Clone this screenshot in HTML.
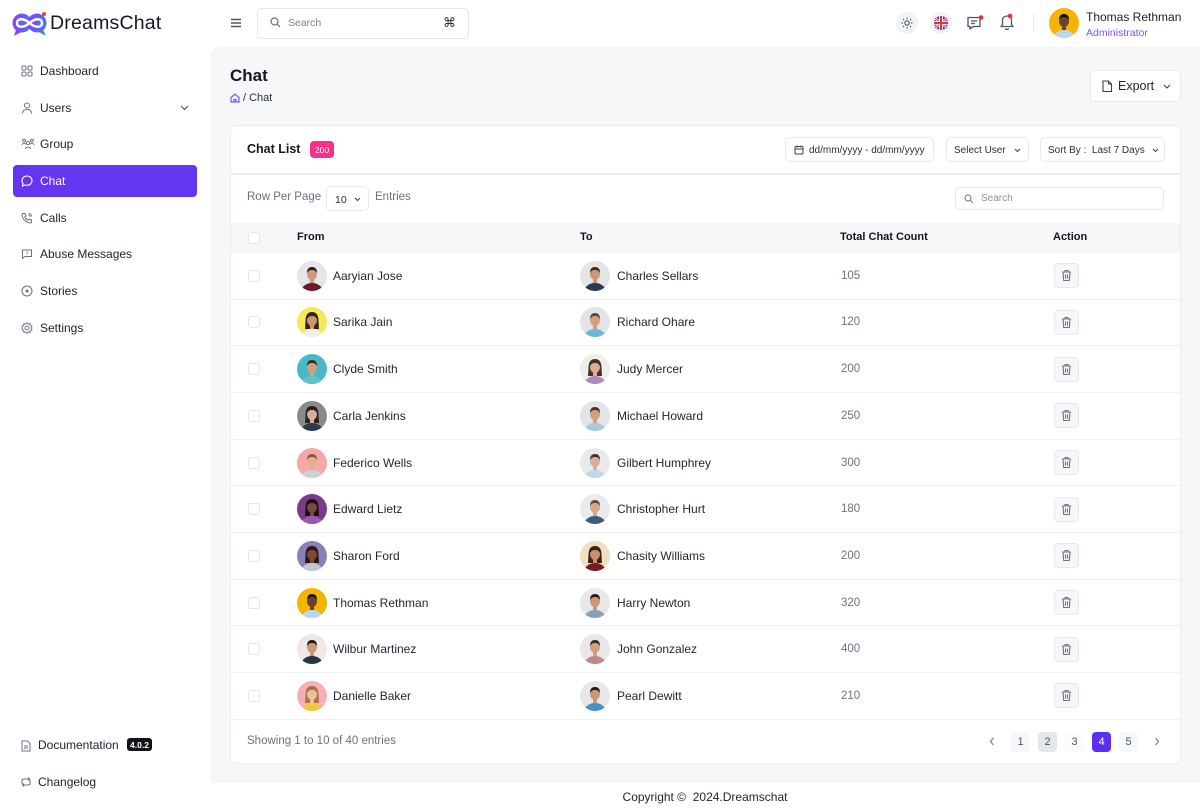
<!DOCTYPE html>
<html><head><meta charset="utf-8">
<style>
*{margin:0;padding:0;box-sizing:border-box}
body{width:1200px;height:812px;overflow:hidden;background:#fff;font-family:"Liberation Sans",Arial,sans-serif;color:#1f2430;position:relative}
.abs{position:absolute}
.nav{position:absolute;left:13px;width:184px;height:32px;display:flex;align-items:center;font-size:12px;color:#202532;border-radius:4px}
.nav svg{position:absolute;left:8px;top:50%;transform:translateY(-50%)}
.nav span{position:absolute;left:27px}
.main{position:absolute;left:210px;top:47px;width:990px;height:736px;background:#f6f7f9;border-top-left-radius:10px}
.card{position:absolute;left:230px;top:125px;width:951px;height:639px;background:#fff;border:1px solid #eaecef;border-radius:6px}
.btn{position:absolute;background:#fff;border:1px solid #e6e8ec;border-radius:5px;font-size:10px;color:#2a2f3a;display:flex;align-items:center}
.row{position:absolute;left:0;width:949px;height:46.67px;border-bottom:1.5px solid #eef0f3}
.cb{position:absolute;left:17px;top:50%;margin-top:-6px;width:12px;height:12px;border:1px solid #e3e5e9;border-radius:3px;background:#fff}
.av{position:absolute;top:50%;margin-top:-15px;width:30px;height:30px;border-radius:50%;overflow:hidden}
.nm{position:absolute;top:50%;transform:translateY(-50%);font-size:12px;color:#1f2430;white-space:nowrap}
.ct{position:absolute;left:610px;top:50%;transform:translateY(-50%);font-size:11.5px;color:#6b7280}
.tr{position:absolute;left:823px;top:50%;margin-top:-12.5px;width:25px;height:25px;background:#f6f7f9;border:1px solid #e6e8ec;border-radius:4px;display:flex;align-items:center;justify-content:center}
.pg{position:absolute;top:606px;width:19px;height:20px;border-radius:4px;font-size:11px;color:#4b5563;display:flex;align-items:center;justify-content:center}
</style></head><body>

<!-- Logo -->
<svg class="abs" style="left:12px;top:11px" width="36" height="26" viewBox="0 0 36 26">
<defs><linearGradient id="lg" x1="0" x2="1"><stop offset="0" stop-color="#8b3dfa"/><stop offset="1" stop-color="#3f7cf5"/></linearGradient></defs>
<circle cx="10" cy="12" r="9.5" fill="url(#lg)"/><circle cx="25" cy="12" r="9.5" fill="url(#lg)"/>
<path d="M4 19 L2 25 L9 21Z" fill="#8b3dfa"/><path d="M31 19 L34 25 L27 21Z" fill="#3f7cf5"/>
<path d="M5 12 C5 7 12 7 17.5 12 C23 17 30 17 30 12 C30 7 23 7 17.5 12 C12 17 5 17 5 12Z" fill="none" stroke="#fff" stroke-width="2.4"/>
<circle cx="32" cy="3" r="2" fill="#f33"/>
</svg>
<div class="abs" style="left:50px;top:12px;font-size:19.5px;color:#141726;letter-spacing:0.2px">DreamsChat</div>

<!-- Header -->
<svg class="abs" style="left:230px;top:17px" width="12" height="12" viewBox="0 0 12 12"><path d="M1 2.5H11M1 6H11M1 9.5H11" stroke="#4b5563" stroke-width="1.4"/></svg>
<div class="abs" style="left:257px;top:8px;width:212px;height:31px;border:1px solid #e4e6ea;border-radius:5px"></div>
<svg class="abs" style="left:270px;top:17px" width="11" height="11" viewBox="0 0 11 11"><circle cx="4.5" cy="4.5" r="3.5" fill="none" stroke="#6b7280" stroke-width="1.2"/><path d="M7.2 7.2L10 10" stroke="#6b7280" stroke-width="1.2"/></svg>
<div class="abs" style="left:288px;top:17px;font-size:10.5px;color:#7b8190">Search</div>
<div class="abs" style="left:443px;top:15px;font-size:13px;color:#2a2f3a">⌘</div>

<div class="abs" style="left:896px;top:12px;width:22px;height:22px;border-radius:50%;background:#f2f3f5"></div>
<svg class="abs" style="left:901px;top:17px" width="12" height="12" viewBox="0 0 12 12"><circle cx="6" cy="6" r="2.2" fill="none" stroke="#374151" stroke-width="1"/><g stroke="#374151" stroke-width="1"><path d="M6 0.5V2M6 10V11.5M0.5 6H2M10 6H11.5M2 2L3 3M9 9L10 10M2 10L3 9M9 3L10 2"/></g></svg>
<div class="abs" style="left:930px;top:12px;width:22px;height:22px;border-radius:50%;background:#f2f3f5"></div>
<svg class="abs" style="left:934px;top:16px" width="14" height="14" viewBox="0 0 14 14"><circle cx="7" cy="7" r="7" fill="#3b4aa8"/><path d="M1 2L13 12M13 2L1 12" stroke="#fff" stroke-width="2.4"/><path d="M1 2L13 12M13 2L1 12" stroke="#e0314b" stroke-width="1"/><path d="M7 0V14M0 7H14" stroke="#fff" stroke-width="3.6"/><path d="M7 0V14M0 7H14" stroke="#e0314b" stroke-width="2"/></svg>
<svg class="abs" style="left:966px;top:15px" width="18" height="17" viewBox="0 0 18 17"><path d="M2 2.5H14V11.5H7L4 14V11.5H2Z" fill="none" stroke="#4b5563" stroke-width="1.3" stroke-linejoin="round"/><path d="M5 6H11M5 8.5H9" stroke="#4b5563" stroke-width="1.2"/><circle cx="15" cy="2.5" r="2.3" fill="#ef2b3b"/></svg>
<svg class="abs" style="left:998px;top:12px" width="18" height="20" viewBox="0 0 18 20"><path d="M3 14.5H15L13.5 12.5V8.5C13.5 5.5 11.5 4 9 4C6.5 4 4.5 5.5 4.5 8.5V12.5Z" fill="none" stroke="#4b5563" stroke-width="1.3" stroke-linejoin="round"/><path d="M7.3 16.5C7.8 17.7 10.2 17.7 10.7 16.5" fill="none" stroke="#4b5563" stroke-width="1.3"/><circle cx="12" cy="4" r="2.3" fill="#ef2b3b"/></svg>
<div class="abs" style="left:1033px;top:14px;width:1px;height:18px;background:#e5e7eb"></div>
<div class="abs" style="left:1049px;top:8px;width:30px;height:30px;border-radius:50%;overflow:hidden"><svg viewBox="0 0 30 30" width="30" height="30"><rect width="30" height="30" fill="#f5b400"/><ellipse cx="15" cy="31" rx="11" ry="9" fill="#b8d8f0"/><rect x="13" y="17" width="4" height="5" fill="#6a4030"/><ellipse cx="15" cy="13" rx="5" ry="6" fill="#6a4030"/><path d="M10 12Q10 6 15 6Q20 6 20 12Q18 8.5 15 9Q12 8.5 10 12Z" fill="#1a1010"/></svg></div>
<div class="abs" style="left:1086px;top:10px;font-size:12px;color:#1b1f2a">Thomas Rethman</div>
<div class="abs" style="left:1086px;top:27px;font-size:10.5px;color:#7a55f5">Administrator</div>

<!-- Sidebar -->
<div class="nav" style="top:55px"><svg width="12" height="12" viewBox="0 0 12 12" fill="none" stroke="#6b7280" stroke-width="1"><rect x="1" y="1" width="4" height="4" rx="1"/><rect x="7" y="1" width="4" height="4" rx="1"/><rect x="1" y="7" width="4" height="4" rx="1"/><rect x="7" y="7" width="4" height="4" rx="1"/></svg><span>Dashboard</span></div>
<div class="nav" style="top:92px"><svg width="12" height="12" viewBox="0 0 12 12" fill="none" stroke="#6b7280" stroke-width="1"><circle cx="6" cy="3.5" r="2.5"/><path d="M1.5 11.5C1.5 8.5 3.5 7.5 6 7.5C8.5 7.5 10.5 8.5 10.5 11.5"/></svg><span>Users</span><svg style="left:167px" width="9" height="6" viewBox="0 0 9 6"><path d="M1 1L4.5 4.5L8 1" fill="none" stroke="#4b5563" stroke-width="1.2"/></svg></div>
<div class="nav" style="top:128px"><svg width="14" height="12" viewBox="0 0 14 12" fill="none" stroke="#6b7280" stroke-width="1"><circle cx="7" cy="5" r="1.6"/><circle cx="3" cy="2.5" r="1.4"/><circle cx="11" cy="2.5" r="1.4"/><path d="M4.5 11C4.5 8.5 9.5 8.5 9.5 11M1 7C1 5 5 5 5 6.5M13 7C13 5 9 5 9 6.5"/></svg><span>Group</span></div>
<div class="nav" style="top:165px;background:#6536f2;color:#fff"><svg width="12" height="12" viewBox="0 0 12 12" fill="none" stroke="#fff" stroke-width="1.1"><path d="M6 1C3 1 1 3 1 5.6C1 6.8 1.4 7.8 2 8.5L1.5 11L4 10C4.6 10.2 5.3 10.3 6 10.3C9 10.3 11 8.2 11 5.6C11 3 9 1 6 1Z"/></svg><span>Chat</span></div>
<div class="nav" style="top:202px"><svg width="12" height="12" viewBox="0 0 12 12" fill="none" stroke="#6b7280" stroke-width="1"><path d="M2 1.5L4 1.5L5 4L3.8 5C4.5 6.5 5.5 7.5 7 8.2L8 7L10.5 8V10C10.5 10.5 10 11 9.5 11C5 10.7 1.3 7 1 2.5C1 2 1.5 1.5 2 1.5Z"/><path d="M7.5 1.5A3 3 0 0 1 10.5 4.5M7.5 3.2A1.5 1.5 0 0 1 9 4.7"/></svg><span>Calls</span></div>
<div class="nav" style="top:238px"><svg width="12" height="12" viewBox="0 0 12 12" fill="none" stroke="#6b7280" stroke-width="1"><path d="M1.5 2H10.5V8.5H4L1.5 10.5Z"/><path d="M6 3.5V5.5M6 6.6V7.2"/></svg><span>Abuse Messages</span></div>
<div class="nav" style="top:275px"><svg width="12" height="12" viewBox="0 0 12 12" fill="none" stroke="#6b7280" stroke-width="1"><circle cx="6" cy="6" r="5"/><circle cx="6" cy="6" r="1" fill="#6b7280"/></svg><span>Stories</span></div>
<div class="nav" style="top:312px"><svg width="12" height="12" viewBox="0 0 12 12" fill="none" stroke="#6b7280" stroke-width="1"><circle cx="6" cy="6" r="2"/><path d="M6 0.8L7.3 2L9 1.7L9.5 3.4L11 4.3L10.4 6L11 7.7L9.5 8.6L9 10.3L7.3 10L6 11.2L4.7 10L3 10.3L2.5 8.6L1 7.7L1.6 6L1 4.3L2.5 3.4L3 1.7L4.7 2Z"/></svg><span>Settings</span></div>

<svg class="abs" style="left:21px;top:740px" width="10" height="12" viewBox="0 0 10 12" fill="none" stroke="#6b7280" stroke-width="1"><path d="M1 1H6.5L9 3.5V11H1Z"/><path d="M3 6H7M3 8H7"/></svg>
<div class="abs" style="left:38px;top:738px;font-size:12px;color:#202532">Documentation</div>
<div class="abs" style="left:127px;top:738px;width:25px;height:13px;background:#111318;border-radius:3px;color:#fff;font-size:8.5px;font-weight:bold;display:flex;align-items:center;justify-content:center">4.0.2</div>
<svg class="abs" style="left:20px;top:776px" width="12" height="12" viewBox="0 0 12 12" fill="none" stroke="#6b7280" stroke-width="1.1"><path d="M2 8V4.5C2 3.5 2.8 3 3.5 3H9.5M8 1.5L9.5 3L8 4.5M10 4V7.5C10 8.5 9.2 9 8.5 9H2.5M4 10.5L2.5 9L4 7.5"/></svg>
<div class="abs" style="left:38px;top:775px;font-size:12px;color:#202532">Changelog</div>

<!-- Main -->
<div class="main"></div>
<div class="abs" style="left:230px;top:66px;font-size:17px;font-weight:bold;color:#14171f">Chat</div>
<svg class="abs" style="left:230px;top:93px" width="10" height="10" viewBox="0 0 10 10" fill="none" stroke="#7a55f5" stroke-width="1.2"><path d="M1 4.5L5 1.2L9 4.5V9H1Z"/><path d="M4 9V6.5H6V9"/></svg>
<div class="abs" style="left:243px;top:92px;font-size:11px;color:#2a2f3a">/ Chat</div>

<div class="btn" style="left:1090px;top:70px;width:91px;height:32px;font-size:12.5px">
<svg style="position:absolute;left:11px;top:9px" width="11" height="13" viewBox="0 0 11 13" fill="none" stroke="#374151" stroke-width="1.1"><path d="M1 1H6.5L9.5 4V11.5H1Z"/><path d="M6.5 1V4H9.5"/></svg>
<span style="position:absolute;left:27px;top:8px;color:#1f2430">Export</span>
<svg style="position:absolute;left:72px;top:13px" width="8" height="6" viewBox="0 0 8 6"><path d="M1 1L4 4L7 1" fill="none" stroke="#374151" stroke-width="1.1"/></svg>
</div>

<div class="card">
 <div class="abs" style="left:16px;top:16px;font-size:12.5px;font-weight:bold;color:#14171f">Chat List</div>
 <div class="abs" style="left:79px;top:15px;width:24px;height:17px;background:#fa2f8c;border-radius:4px;color:#fff;font-size:8.5px;display:flex;align-items:center;justify-content:center">200</div>

 <div class="btn" style="left:554px;top:11px;width:149px;height:25px">
  <svg style="position:absolute;left:8px;top:7px" width="10" height="10" viewBox="0 0 10 10" fill="none" stroke="#374151" stroke-width="1"><rect x="1" y="1.5" width="8" height="7.5" rx="1"/><path d="M1 4H9M3 0.5V2.5M7 0.5V2.5"/></svg>
  <span style="position:absolute;left:23px;top:6.5px;font-size:10px">dd/mm/yyyy - dd/mm/yyyy</span></div>
 <div class="btn" style="left:715px;top:11px;width:83px;height:25px">
  <span style="position:absolute;left:7px;top:6.5px">Select User</span>
  <svg style="position:absolute;left:67px;top:10px" width="7" height="5" viewBox="0 0 7 5"><path d="M1 1L3.5 3.5L6 1" fill="none" stroke="#374151" stroke-width="1"/></svg></div>
 <div class="btn" style="left:809px;top:11px;width:125px;height:25px">
  <span style="position:absolute;left:7px;top:6.5px">Sort By :&nbsp; Last 7 Days</span>
  <svg style="position:absolute;left:111px;top:10px" width="7" height="5" viewBox="0 0 7 5"><path d="M1 1L3.5 3.5L6 1" fill="none" stroke="#374151" stroke-width="1"/></svg></div>

 <div class="abs" style="left:0;top:47px;width:949px;height:1.5px;background:#eceef1"></div>

 <div class="abs" style="left:16px;top:65px;font-size:11.5px;color:#6b7280">Row Per Page</div>
 <div class="btn" style="left:95px;top:60px;width:43px;height:25px">
  <span style="position:absolute;left:8px;top:6.5px;font-size:10.5px">10</span>
  <svg style="position:absolute;left:27px;top:10px" width="7" height="5" viewBox="0 0 7 5"><path d="M1 1L3.5 3.5L6 1" fill="none" stroke="#374151" stroke-width="1"/></svg></div>
 <div class="abs" style="left:144px;top:65px;font-size:11.5px;color:#6b7280">Entries</div>
 <div class="btn" style="left:724px;top:61px;width:209px;height:23px">
  <svg style="position:absolute;left:8px;top:6px" width="10" height="10" viewBox="0 0 10 10"><circle cx="4" cy="4" r="3" fill="none" stroke="#6b7280" stroke-width="1"/><path d="M6.3 6.3L9 9" stroke="#6b7280" stroke-width="1"/></svg>
  <span style="position:absolute;left:25px;top:5px;color:#8a909c">Search</span></div>

 <!-- table header -->
 <div class="abs" style="left:0;top:97px;width:949px;height:30px;background:#f6f7f9"></div>
 <div class="cb" style="top:112px"></div>
 <div class="abs" style="left:66px;top:105px;font-size:11px;font-weight:bold;color:#14171f">From</div>
 <div class="abs" style="left:349px;top:105px;font-size:11px;font-weight:bold;color:#14171f">To</div>
 <div class="abs" style="left:609px;top:105px;font-size:11px;font-weight:bold;color:#14171f">Total Chat Count</div>
 <div class="abs" style="left:822px;top:105px;font-size:11px;font-weight:bold;color:#14171f">Action</div>

 <div id="rows"></div>

 <div class="abs" style="left:16px;top:609px;font-size:11.5px;color:#6b7280">Showing 1 to 10 of 40 entries</div>
 <svg class="abs" style="left:758px;top:611px" width="6" height="9" viewBox="0 0 6 9"><path d="M4.5 1L1.5 4.5L4.5 8" fill="none" stroke="#6b7280" stroke-width="1"/></svg>
 <div class="pg" style="left:780px;background:#f6f7f9">1</div>
 <div class="pg" style="left:807px;background:#e5e6e9">2</div>
 <div class="pg" style="left:834px;background:#fafbfc">3</div>
 <div class="pg" style="left:861px;background:#5b2ef2;color:#fff">4</div>
 <div class="pg" style="left:888px;background:#f6f7f9">5</div>
 <svg class="abs" style="left:923px;top:611px" width="6" height="9" viewBox="0 0 6 9"><path d="M1.5 1L4.5 4.5L1.5 8" fill="none" stroke="#6b7280" stroke-width="1"/></svg>
</div>

<div class="abs" style="left:0;top:790px;width:1410px;text-align:center;font-size:12px;color:#1f2430">Copyright ©&nbsp; 2024.Dreamschat</div>

<script>
function av(bg,sh,sk,hr,lng){
 return '<svg viewBox="0 0 30 30" width="30" height="30"><rect width="30" height="30" fill="'+bg+'"/>'+
 (lng?'<path d="M8.5 14Q8.5 5 15 5Q21.5 5 21.5 14L22 22L8 22Z" fill="'+hr+'"/>':'')+
 '<ellipse cx="15" cy="31" rx="11" ry="9" fill="'+sh+'"/><rect x="13" y="17" width="4" height="5" fill="'+sk+'"/><ellipse cx="15" cy="13" rx="5" ry="6" fill="'+sk+'"/>'+
 '<path d="M10 12Q10 6 15 6Q20 6 20 12Q18 8.5 15 9Q12 8.5 10 12Z" fill="'+hr+'"/></svg>';
}
var data=[
["Aaryian Jose",["#e6e6ea","#6b1a2a","#c99a7e","#2a1a14"],"Charles Sellars",["#e4e4e6","#2a3a50","#c89878","#3a2a20"],"105"],
["Sarika Jain",["#f5e95a","#f3efe8","#c8967a","#3a2418",1],"Richard Ohare",["#e4e4e6","#6ab8d8","#d0a080","#5a4a40"],"120"],
["Clyde Smith",["#4bb8c9","#5cc2c8","#d0a080","#3a2a20"],"Judy Mercer",["#eeeeea","#b08ab8","#d8b098","#4a3020",1],"200"],
["Carla Jenkins",["#8a8a88","#2c3a4a","#d8b09a","#2a201c",1],"Michael Howard",["#e4e4e6","#a8c8e0","#d0a080","#4a3020"],"250"],
["Federico Wells",["#f4a8a8","#d0d0d4","#e0b090","#8a5a3a"],"Gilbert Humphrey",["#eaeaea","#c0d8e8","#d8b098","#4a3020"],"300"],
["Edward Lietz",["#7a3a8a","#9a5ab0","#7a4a3a","#1a1010",1],"Christopher Hurt",["#e8eaee","#3a5a80","#d8a888","#6a4a30"],"180"],
["Sharon Ford",["#8a80b8","#c8c8cc","#7a4a34","#2a1a14",1],"Chasity Williams",["#f0e0c0","#7a1a28","#c89070","#3a2418",1],"200"],
["Thomas Rethman",["#f5b400","#b8d8f0","#6a4030","#1a1010"],"Harry Newton",["#e8e8ea","#8aa0b8","#c89878","#2a1a14"],"320"],
["Wilbur Martinez",["#f0e8e4","#2a3448","#c89878","#2a1a14"],"John Gonzalez",["#e8e8ea","#c08888","#d0a080","#3a2a20"],"400"],
["Danielle Baker",["#f4b0b8","#f0c840","#e8c0a0","#b07040",1],"Pearl Dewitt",["#e8e8ea","#4a90c8","#c89878","#2a1a14"],"210"]];
var trash='<svg width="11" height="13" viewBox="0 0 11 13" fill="none" stroke="#6b7280" stroke-width="1.1"><path d="M1 3H10M4 3V1.5H7V3M2 3L2.7 11.5H8.3L9 3M4.5 5.5V9.5M6.5 5.5V9.5"/></svg>';
var h='';
data.forEach(function(d,i){
 var t=127+i*46.67;
 h+='<div class="row" style="top:'+t+'px"><div class="cb"></div>'+
 '<div class="av" style="left:66px">'+av.apply(null,d[1])+'</div><div class="nm" style="left:102px">'+d[0]+'</div>'+
 '<div class="av" style="left:349px">'+av.apply(null,d[3])+'</div><div class="nm" style="left:386px">'+d[2]+'</div>'+
 '<div class="ct">'+d[4]+'</div><div class="tr">'+trash+'</div></div>';
});
document.getElementById('rows').innerHTML=h;
</script>
</body></html>
